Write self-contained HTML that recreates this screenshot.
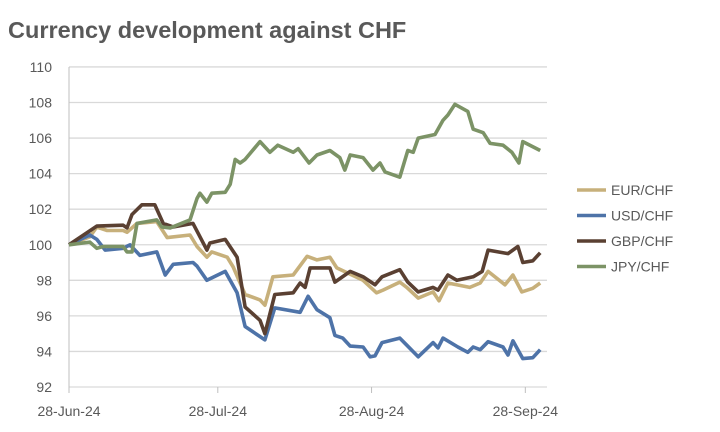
<!DOCTYPE html>
<html><head><meta charset="utf-8"><style>
body{margin:0;background:#fff;font-family:"Liberation Sans",Arial,sans-serif;}
svg{display:block}
text{fill:#595959;font-family:"Liberation Sans",Arial,sans-serif}
</style></head><body>
<svg id="chart" width="720" height="432" viewBox="0 0 720 432">
<text x="8" y="38" font-size="23.5" font-weight="bold">Currency development against CHF</text>
<g id="grid"></g><g id="axes"></g><g id="lines"></g><g id="legend"></g>
</svg>
<script>
const yTicks=[92,94,96,98,100,102,104,106,108,110];
const xTickDays=[0,30,61,92];
const xTickLabels=["28-Jun-24","28-Jul-24","28-Aug-24","28-Sep-24"];
const seriesNames=["EUR/CHF","USD/CHF","GBP/CHF","JPY/CHF"];
const seriesColors=["#c7b07b","#4e73a8","#5a4032","#7c9366"];
const eurDays=[0,4.2,5.6,7.7,10.9,11.7,13.7,17.7,19.8,24.4,25.8,27.8,28.8,31.9,33.1,35.5,38.5,39.5,41.1,45.2,48,50,52.6,54,59.3,62,63.3,66.7,68.1,70.4,73.4,74.6,76.4,80.8,82.9,84.5,87.9,89.5,91.3,93.5,95];
const eurVals=[100,100.45,101,100.8,100.8,100.7,101.2,101.3,100.4,100.55,99.9,99.3,99.6,99.3,98.75,97.2,96.9,96.6,98.2,98.3,99.35,99.15,99.3,98.7,98.0,97.3,97.45,97.9,97.6,97.0,97.35,96.85,97.85,97.6,97.85,98.5,97.75,98.3,97.35,97.55,97.85];
const usdDays=[0,4.2,5.6,7.3,10.9,12.3,14.3,17.7,19.4,21,25,25.8,27.8,31.5,33.9,35.5,39.5,41.5,46.6,48.2,50,52.6,53.6,55.2,56.7,59.3,60.7,61.7,63.1,66.7,68.1,70.4,73.4,74.4,75.4,78.4,80.4,81.5,82.9,84.5,87.5,88.5,89.5,91.5,93.5,95];
const usdVals=[100,100.55,100.3,99.7,99.8,100,99.4,99.6,98.3,98.9,99,98.8,98,98.5,97.3,95.4,94.65,96.45,96.2,97.1,96.35,95.9,94.9,94.75,94.3,94.25,93.7,93.75,94.5,94.75,94.35,93.7,94.5,94.2,94.75,94.25,93.95,94.25,94.1,94.55,94.25,93.8,94.6,93.6,93.65,94.1];
const gbpDays=[0,5.6,10.9,11.7,12.7,14.7,17.3,19,21,25,27.8,28.4,31.5,33.9,35.5,38.5,39.5,41.5,45.2,46.6,47.6,48.6,52.6,53.6,56.7,59.3,61.7,63.1,66.7,68.3,70.4,73.4,74.4,76.4,78.2,81.5,83.3,84.5,88.5,90.5,91.5,93.5,95];
const gbpVals=[100,101.05,101.1,100.95,101.7,102.25,102.25,101.2,101,101.2,99.7,100.1,100.3,99.3,96.5,95.75,95,97.2,97.3,97.85,97.6,98.7,98.7,97.9,98.5,98.2,97.75,98.2,98.6,97.9,97.35,97.6,97.45,98.3,98,98.2,98.5,99.7,99.5,99.9,99,99.1,99.55];
const jpyDays=[0,4.2,5.6,6.9,10.9,11.7,12.7,13.7,17.7,18.7,20.4,24.4,25.8,26.4,27.8,28.8,31.5,32.5,33.5,34.5,35.5,38.5,40.5,42.1,45.2,46.2,48.4,50,52.6,54.6,55.6,56.7,59.3,61.3,62.7,63.7,66.7,68.3,69.4,70.4,73.8,75.4,76.4,77.8,80.4,81.5,83.5,84.9,87.5,89.3,90.7,91.5,95];
const jpyVals=[100,100.15,99.8,99.9,99.9,99.6,99.6,101.2,101.4,101,100.95,101.4,102.6,102.9,102.4,102.9,102.95,103.4,104.8,104.6,104.8,105.8,105.2,105.6,105.2,105.4,104.6,105.05,105.3,104.9,104.2,105.05,104.9,104.2,104.6,104.1,103.8,105.3,105.2,106,106.2,107,107.3,107.9,107.5,106.5,106.3,105.7,105.6,105.2,104.6,105.8,105.3];
const allDays=[eurDays,usdDays,gbpDays,jpyDays];
const allVals=[eurVals,usdVals,gbpVals,jpyVals];
const NS="http://www.w3.org/2000/svg";
const X0=69,PXD=4.96,Y0=387,YMIN=92,PXV=17.78;
function xs(d){return X0+d*PXD;}
function ys(v){return Y0-(v-YMIN)*PXV;}
function mk(tag,attrs,parent){const e=document.createElementNS(NS,tag);for(const k in attrs)e.setAttribute(k,attrs[k]);parent.appendChild(e);return e;}
const grid=document.getElementById('grid'),axes=document.getElementById('axes'),lines=document.getElementById('lines'),legend=document.getElementById('legend');
yTicks.forEach(t=>{
  const l=mk('line',{x1:69,x2:547,y1:ys(t),y2:ys(t),stroke:'#d9d9d9','stroke-width':1.3},grid);
  
  
  const tx=mk('text',{x:52,y:ys(t)+5,'text-anchor':'end','font-size':14},axes);
  tx.textContent=t;
  
  
});
const ax=mk('line',{x1:69,x2:69,y1:ys(110),y2:Y0+6,stroke:'#bfbfbf','stroke-width':1},axes);


xTickDays.forEach((d,i)=>{
  const tk=mk('line',{x1:xs(d),x2:xs(d),y1:Y0,y2:Y0+6,stroke:'#bfbfbf'},axes);
  
  
  const tx=mk('text',{x:xs(d),y:416,'text-anchor':'middle','font-size':14},axes);
  tx.textContent=xTickLabels[i];
  
  
});
allVals.forEach((vals,si)=>{
  const days=allDays[si];
  const pts=vals.map((v,i)=>xs(days[i]).toFixed(1)+','+ys(v).toFixed(1)).join(' ');
  const p=mk('polyline',{points:pts,fill:'none',stroke:seriesColors[si],'stroke-width':3.6,'stroke-linejoin':'round'},lines);
  
  
  const ly=190+si*25.5;
  const g=mk('g',{},legend);
  
  
  mk('line',{x1:577,x2:606,y1:ly,y2:ly,stroke:seriesColors[si],'stroke-width':3.6},g);
  const t=mk('text',{x:611,y:ly+5,'font-size':14},g);
  t.textContent=seriesNames[si];
});
</script>
</body></html>
